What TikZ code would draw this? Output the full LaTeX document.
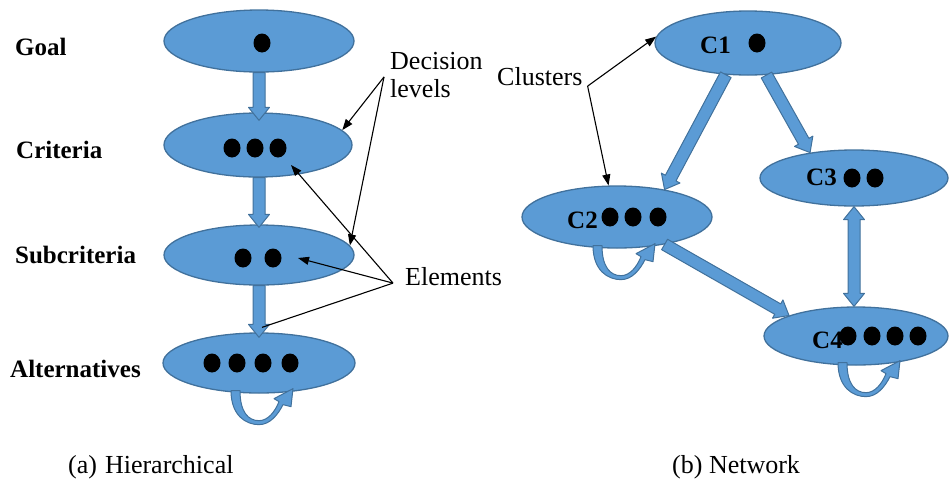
\documentclass[tikz,border=0pt]{standalone}
\usepackage{fontspec}
\setmainfont{LiberationSerif}[Extension=.ttf, UprightFont=*-Regular, BoldFont=*-Bold, ItalicFont=*-Italic, BoldItalicFont=*-BoldItalic]
\usetikzlibrary{shapes.geometric,arrows.meta,calc}

\definecolor{levelfill}{HTML}{5B9BD5}
\definecolor{leveledge}{HTML}{41719C}

\tikzset{
  level/.style={ellipse, fill=levelfill, draw=leveledge, line width=1.3pt, inner sep=0pt},
  flow/.style={fill=levelfill, draw=leveledge, line width=1pt, line join=round},
  element/.style={fill=black},
  rowlabel/.style={font=\fontsize{25}{30}\selectfont\bfseries, anchor=base west, inner sep=0pt},
  clusterlabel/.style={font=\fontsize{25}{30}\selectfont\bfseries, anchor=base west, inner sep=0pt},
  note/.style={font=\fontsize{26}{28}\selectfont, inner sep=0pt, align=left},
  caption/.style={font=\fontsize{26}{30}\selectfont, anchor=base west, inner sep=0pt},
  pointer/.style={line width=1.1pt, -{Triangle[length=11pt,width=8pt]}},
  plainline/.style={line width=1.1pt}
}

% straight block arrow from #1 to #2
\newcommand\flowarrow[2]{%
  \coordinate (fa-a) at (#1);
  \coordinate (fa-b) at (#2);
  \coordinate (fa-h) at ($(fa-b)!13pt!(fa-a)$);
  \filldraw[flow] ($(fa-a)!6pt!-90:(fa-b)$) -- ($(fa-h)!6pt!-90:(fa-b)$)
    -- ($(fa-h)!10.5pt!-90:(fa-b)$) -- (fa-b) -- ($(fa-h)!10.5pt!90:(fa-b)$)
    -- ($(fa-h)!6pt!90:(fa-b)$) -- ($(fa-a)!6pt!90:(fa-b)$) -- cycle;}

% block arrow with heads at both ends
\newcommand\twowayarrow[2]{%
  \coordinate (ta-a) at (#1);
  \coordinate (ta-b) at (#2);
  \coordinate (ta-ha) at ($(ta-a)!13pt!(ta-b)$);
  \coordinate (ta-hb) at ($(ta-b)!13pt!(ta-a)$);
  \filldraw[flow] (ta-a) -- ($(ta-ha)!10.5pt!90:(ta-b)$) -- ($(ta-ha)!6pt!90:(ta-b)$)
    -- ($(ta-hb)!6pt!90:(ta-b)$) -- ($(ta-hb)!10.5pt!90:(ta-b)$) -- (ta-b)
    -- ($(ta-hb)!10.5pt!-90:(ta-b)$) -- ($(ta-hb)!6pt!-90:(ta-b)$)
    -- ($(ta-ha)!6pt!-90:(ta-b)$) -- ($(ta-ha)!10.5pt!-90:(ta-b)$) -- cycle;}

% curved block arrow looping back into the same level
\newcommand\selfloop[1]{%
  \begin{scope}[shift={(#1)}]
    \filldraw[flow] (-29,-3) .. controls (-29,22) and (-14,31) .. (-1,31)
      .. controls (10,31) and (18,21) .. (23,11)
      -- (31,13) -- (33,-5) -- (14,5) -- (19,8)
      .. controls (15,18) and (8,27) .. (-1,27)
      .. controls (-12,27) and (-20,18) .. (-20,-3) -- cycle;
  \end{scope}}

\begin{document}
\begin{tikzpicture}[x=1pt,y=-1pt]
\useasboundingbox (0,0) rectangle (950,483);

% ---------- (a) hierarchy ----------
\node[level, minimum width=190pt, minimum height=62pt] (goal) at (259,41) {};
\node[level, minimum width=188pt, minimum height=64pt] (crit) at (258,145) {};
\node[level, minimum width=190pt, minimum height=60pt] (sub)  at (259,255) {};
\node[level, minimum width=192pt, minimum height=60pt] (alt)  at (259,363) {};

\flowarrow{goal.south}{goal.south |- {$(crit.north)+(0,8)$}}
\flowarrow{goal.south |- crit.south}{goal.south |- {$(sub.north)+(0,3)$}}
\flowarrow{sub.south}{$(alt.north)+(0,5)$}
\selfloop{$(alt.south)+(1,0)$}

\fill[element] (262,43) ellipse [x radius=8.5pt, y radius=9.5pt];
\foreach \x in {232,255,278} \fill[element] (\x,148) ellipse [x radius=8.5pt, y radius=9.5pt];
\foreach \x in {243,273} \fill[element] (\x,258) ellipse [x radius=8.5pt, y radius=9.5pt];
\foreach \x in {212,237,263,290} \fill[element] (\x,363) ellipse [x radius=8.5pt, y radius=9.5pt];

\node[rowlabel] (lgoal) at (15,55) {Goal};
\node[rowlabel] (lcrit) at (16,158) {Criteria};
\node[rowlabel] (lsub)  at (15,263) {Subcriteria};
\node[rowlabel] (lalt)  at (10,377) {Alternatives};

\node[note, anchor=north west] (dec) at (390,52) {Decision\\levels};
\node[note, anchor=base west] (elem) at (405,285) {Elements};

\coordinate (dectail) at ($(dec.west)+(-6,2)$);
\coordinate (elemtail) at ($(elem.west)+(-12,7)$);
\draw[pointer] (dectail) -- (crit.10);
\draw[pointer] (dectail) -- (sub.6);
\draw[pointer] (elemtail) -- ($(crit.center)+(33,20)$);
\draw[pointer] (elemtail) -- ($(sub.center)+(39,3)$);
\draw[plainline] (elemtail) -- ($(alt.north)+(3,-5)$);

\node[caption] (capa) at (68,473) {(a)\hspace{8pt}Hierarchical};

% ---------- (b) network ----------
\node[level, minimum width=186pt, minimum height=64pt] (c1) at (748,43) {};
\node[level, minimum width=190pt, minimum height=62pt] (c2) at (617,217) {};
\node[level, minimum width=188pt, minimum height=56pt] (c3) at (854,178) {};
\node[level, minimum width=184pt, minimum height=58pt] (c4) at (856,336) {};

\flowarrow{c1.235}{c2.30}
\flowarrow{c1.300}{c3.150}
\flowarrow{c2.330}{c4.163}
\twowayarrow{c3.south}{c3.south |- c4.north}
\selfloop{$(c2.south)+(5,0)$}
\selfloop{$(c4.south)+(11,0)$}

\node[clusterlabel] (lc1) at (700,53) {C1};
\node[clusterlabel] (lc2) at (567,228) {C2};
\node[clusterlabel] (lc3) at (806,185) {C3};
\node[clusterlabel] (lc4) at (812,348) {C4};

\fill[element] (757,43) ellipse [x radius=8.5pt, y radius=9.5pt];
\foreach \x in {610,633,658} \fill[element] (\x,217) ellipse [x radius=8.5pt, y radius=9.5pt];
\foreach \x in {852,875} \fill[element] (\x,178) ellipse [x radius=8.5pt, y radius=9.5pt];
\foreach \x in {848,872,895,918} \fill[element] (\x,336) ellipse [x radius=8.5pt, y radius=9.5pt];

\node[caption] (clus) at (497,85) {Clusters};
\coordinate (clustail) at ($(clus.east)+(5,10)$);
\draw[pointer] (clustail) -- (c1.176);
\draw[pointer] (clustail) -- (c2.105);

\node[caption] (capb) at (672,473) {(b) Network};
\end{tikzpicture}
\end{document}
